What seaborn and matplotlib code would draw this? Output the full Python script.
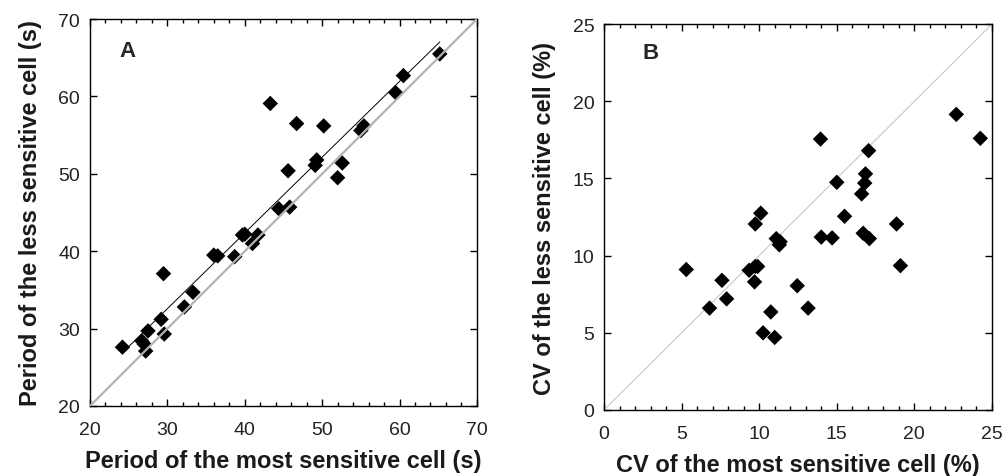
import numpy as np
import pandas as pd
import matplotlib as mpl
mpl.use('Agg')
import matplotlib.pyplot as plt
from matplotlib.ticker import MultipleLocator
import seaborn as sb

# panel A: oscillation periods (s)
period_most = [24.2, 26.7, 27.0, 27.2, 27.5, 29.2, 29.5, 29.6, 32.2, 33.3,
               36.0, 36.5, 38.7, 39.7, 40.0, 41.0, 41.7, 43.3, 44.4, 45.6,
               45.8, 46.7, 49.1, 49.3, 50.2, 52.0, 52.6, 55.0, 55.4, 59.5,
               60.5, 65.2]
period_less = [27.6, 28.4, 28.0, 27.1, 29.7, 31.2, 37.1, 29.3, 32.8, 34.7,
               39.5, 39.4, 39.3, 42.1, 42.2, 41.0, 42.1, 59.1, 45.5, 50.4,
               45.7, 56.5, 51.1, 51.8, 56.2, 49.5, 51.4, 55.6, 56.2, 60.5,
               62.7, 65.5]

# panel B: coefficient of variation (%)
cv_most = [5.3, 6.8, 7.6, 7.9, 9.35, 9.75, 9.9, 9.7, 9.75, 10.1, 10.25,
           10.75, 11.0, 11.1, 11.35, 11.3, 12.45, 13.15, 13.95, 14.0, 14.7,
           15.0, 15.5, 16.6, 16.8, 16.85, 17.05, 16.7, 17.1, 18.85, 19.1,
           22.7, 24.25]
cv_less = [9.1, 6.6, 8.4, 7.2, 9.05, 9.3, 9.3, 8.3, 12.05, 12.75, 5.0,
           6.35, 4.7, 11.1, 10.9, 10.7, 8.05, 6.6, 17.55, 11.2, 11.15,
           14.75, 12.55, 14.0, 14.7, 15.3, 16.8, 11.45, 11.1, 12.05, 9.35,
           19.15, 17.6]

width = 10.03
height = 4.77

sb.set_theme(style="ticks")
plt.rcParams['font.family'] = ['Liberation Sans', 'DejaVu Sans']
plt.rc('axes', linewidth=1.0, edgecolor='black')

fig = plt.figure(figsize=(width, height), dpi=100)
ax_a = fig.add_axes([0.0897, 0.1468, 0.3858, 0.811])
ax_b = fig.add_axes([0.6022, 0.1384, 0.3868, 0.809])

df_a = pd.DataFrame({'most': period_most, 'less': period_less})
df_b = pd.DataFrame({'most': cv_most, 'less': cv_less})

# panel A
sb.regplot(x='most', y='less', data=df_a, scatter=False, ci=None, truncate=True,
           line_kws=dict(color='black', linewidth=0.7), ax=ax_a)
sb.scatterplot(x='most', y='less', data=df_a, marker='D', color='black', s=62,
               edgecolor='none', ax=ax_a, zorder=3)
ax_a.axline((0, 0), slope=1, color='#b3b3b3', linewidth=1.6, zorder=4)
ax_a.set_xlim(20, 70)
ax_a.set_ylim(20, 70)
ax_a.xaxis.set_major_locator(MultipleLocator(10))
ax_a.xaxis.set_minor_locator(MultipleLocator(2))
ax_a.yaxis.set_major_locator(MultipleLocator(10))
ax_a.set_xlabel('Period of the most sensitive cell (s)', fontsize=17, fontweight='bold', labelpad=8)
ax_a.set_ylabel('Period of the less sensitive cell (s)', fontsize=17, fontweight='bold', labelpad=12)
ax_a.text(0.098, 0.92, 'A', transform=ax_a.transAxes, fontsize=16, fontweight='bold',
          ha='center', va='center')

# panel B
sb.scatterplot(x='most', y='less', data=df_b, marker='D', color='black', s=62,
               edgecolor='none', ax=ax_b, zorder=3)
ax_b.axline((0, 0), slope=1, color='#c8c8c8', linewidth=0.8, zorder=2)
ax_b.set_xlim(0, 25)
ax_b.set_ylim(0, 25)
ax_b.xaxis.set_major_locator(MultipleLocator(5))
ax_b.xaxis.set_minor_locator(MultipleLocator(1))
ax_b.yaxis.set_major_locator(MultipleLocator(5))
ax_b.set_xlabel('CV of the most sensitive cell (%)', fontsize=17, fontweight='bold', labelpad=8)
ax_b.set_ylabel('CV of the less sensitive cell (%)', fontsize=17, fontweight='bold', labelpad=12)
ax_b.text(0.119, 0.927, 'B', transform=ax_b.transAxes, fontsize=16, fontweight='bold',
          ha='center', va='center')

for ax in (ax_a, ax_b):
    ax.tick_params(which='both', direction='in', top=True, right=True,
                   labelsize=14, colors='black')
    ax.tick_params(axis='x', which='major', length=5, width=1, pad=11)
    ax.tick_params(axis='x', which='minor', length=3, width=1)
    ax.tick_params(axis='y', which='major', length=5, width=1, pad=7)
    ax.xaxis.label.set_color('#1a1a1a')
    ax.yaxis.label.set_color('#1a1a1a')
    for tl in ax.get_xticklabels() + ax.get_yticklabels():
        tl.set_color('#222222')

fig.savefig('out.png', dpi=100)
